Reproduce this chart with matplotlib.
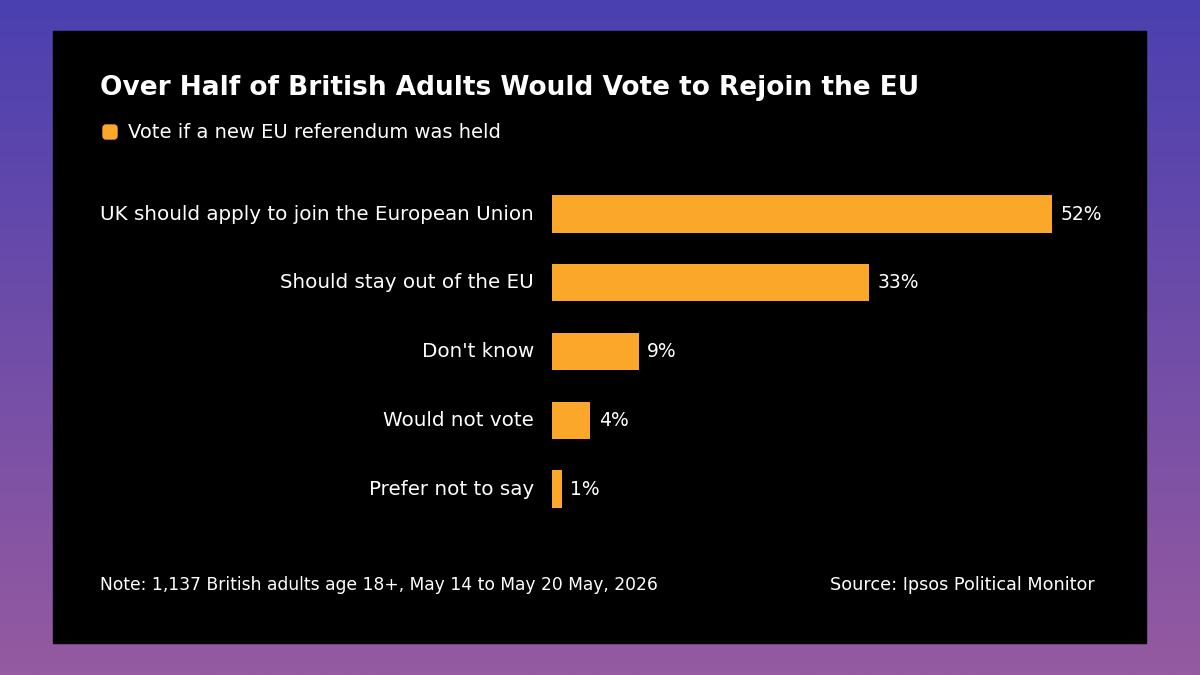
import matplotlib.pyplot as plt
import numpy as np
from matplotlib.patches import Rectangle, FancyBboxPatch
from matplotlib.transforms import IdentityTransform

categories = ["UK should apply to join the European Union", "Should stay out of the EU",
              "Don't know", "Would not vote", "Prefer not to say"]
values = [52, 33, 9, 4, 1]
value_labels = ["52%", "33%", "9%", "4%", "1%"]

title = "Over Half of British Adults Would Vote to Rejoin the EU"
legend_label = "Vote if a new EU referendum was held"
note = "Note: 1,137 British adults age 18+, May 14 to May 20 May, 2026"
source = "Source: Ipsos Political Monitor"

orange = "#FBA72A"
W, H = 1200, 675

fig = plt.figure(figsize=(12, 6.75), dpi=100)

# gradient background + black panel
bg = fig.add_axes([0, 0, 1, 1], zorder=0)
top = np.array([0x4b, 0x40, 0xb0]) / 255
bot = np.array([0x95, 0x5a, 0xa0]) / 255
t = np.linspace(0, 1, 256)[:, None, None]
grad = top * (1 - t) + bot * t
grad = np.repeat(grad, 2, axis=1)
bg.imshow(grad, aspect="auto", extent=[0, 1, 0, 1])
bg.add_patch(Rectangle((53 / W, 1 - 643 / H), (1146 - 53) / W, (643 - 31) / H,
                       color="black", zorder=2))
bg.set_xlim(0, 1)
bg.set_ylim(0, 1)
bg.axis("off")

# bars
ax = fig.add_axes([552 / W, (H - 523.4) / H, 577 / W, 343.75 / H], zorder=1)
ax.set_facecolor("none")
y = np.arange(len(categories))
ax.barh(y, values, height=0.54, color=orange)
ax.set_xlim(0, 60)
ax.set_ylim(len(categories) - 0.5, -0.5)
for i, (v, lab) in enumerate(zip(values, value_labels)):
    ax.text(v + 0.85, i, lab, color="white", fontsize=13.5, va="center", ha="left")
ax.set_yticks(y)
ax.set_yticklabels(categories, color="white", fontsize=14.3, va="center")
ax.tick_params(axis="y", length=0, pad=13)
ax.set_xticks([])
for s in ax.spines.values():
    s.set_visible(False)

# title, legend
fig.text(100 / W, 1 - 88 / H, title, color="white", fontsize=19, fontweight="bold", va="center")
fig.add_artist(FancyBboxPatch((103, H - 139), 14, 14, boxstyle="round,pad=0,rounding_size=3",
                              transform=IdentityTransform(), color=orange))
fig.text(128 / W, 1 - 133 / H, legend_label, color="white", fontsize=14, va="center")

# footer
fig.text(100 / W, 1 - 585 / H, note, color="white", fontsize=12.3, va="center")
fig.text(1095 / W, 1 - 585 / H, source, color="white", fontsize=12.7, va="center", ha="right")

fig.savefig("out.png", dpi=100)
